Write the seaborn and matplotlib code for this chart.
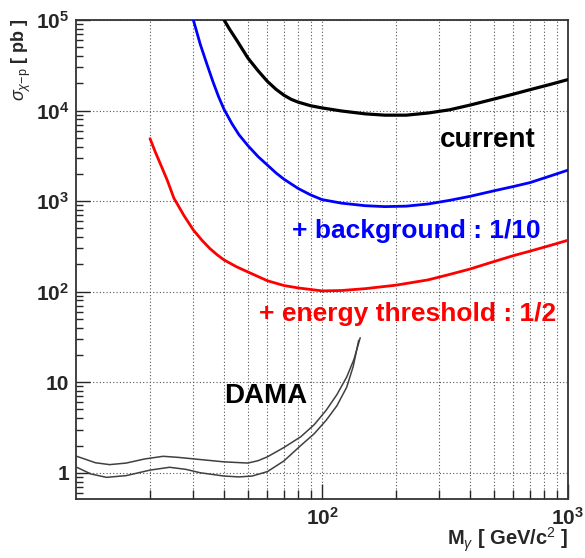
import numpy as np
import pandas as pd
import matplotlib
matplotlib.use("Agg")
import matplotlib.pyplot as plt
from matplotlib.ticker import NullFormatter, FixedLocator, FixedFormatter
import seaborn as sns

# curve values (mass in GeV/c^2, cross section in pb)
m_current = [40, 42, 45, 50, 55, 60, 65, 70, 75, 80, 90, 100, 120, 150, 180, 220, 270, 330, 400, 500, 600,
             700, 850, 1000]
s_current = [1.0e5, 8.0e4, 6.0e4, 3.8e4, 2.75e4, 2.1e4, 1.72e4, 1.48e4, 1.33e4, 1.24e4, 1.13e4, 1.07e4,
             9.9e3, 9.2e3, 8.9e3, 8.9e3, 9.4e3, 1.02e4, 1.15e4, 1.34e4, 1.52e4, 1.7e4, 1.95e4, 2.2e4]

m_bkg = [30, 32, 34, 36, 38, 40, 43, 46, 50, 55, 60, 65, 70, 80, 90, 100, 120, 150, 180, 220, 270, 330, 400,
         500, 600, 700, 850, 1000]
s_bkg = [1.0e5, 5.4e4, 3.3e4, 2.1e4, 1.42e4, 1.03e4, 7.2e3, 5.4e3, 4.1e3, 3.1e3, 2.5e3, 2.05e3, 1.75e3,
         1.38e3, 1.17e3, 1.04e3, 950, 890, 870, 880, 930, 1.02e3, 1.13e3, 1.3e3, 1.45e3, 1.6e3, 1.9e3, 2.2e3]

m_thr = [20, 21, 22, 23.5, 25, 27.5, 30, 32.5, 35, 37.5, 40, 45, 50, 60, 70, 80, 100, 120, 150, 200, 270,
         330, 400, 500, 600, 700, 850, 1000]
s_thr = [4.9e3, 3.5e3, 2.6e3, 1.7e3, 1.08e3, 690, 480, 370, 300, 255, 224, 188, 165, 132, 117, 110, 102,
         103, 108, 118, 135, 155, 178, 215, 250, 280, 325, 370]

m_dama_hi = [10, 11, 12, 13.7, 16, 19, 22.6, 26, 32, 40, 50, 55, 60, 70, 82, 93, 104, 115, 126, 135, 143]
s_dama_hi = [1.53, 1.40, 1.29, 1.23, 1.28, 1.42, 1.52, 1.48, 1.4, 1.32, 1.28, 1.36, 1.5, 1.9, 2.5, 3.4, 4.9,
             7.3, 11.4, 18, 31]
m_dama_lo = [10, 11.5, 13.3, 16, 20, 24, 28, 32, 40, 46, 52, 60, 70, 82, 93, 104, 115, 126, 134, 141]
s_dama_lo = [1.16, 0.97, 0.89, 0.93, 1.07, 1.15, 1.09, 1.0, 0.92, 0.9, 0.92, 1.03, 1.35, 2.0, 2.7, 3.8, 5.5,
             8.8, 15, 29]

y_ticks = [1, 10, 100, 1000, 1e4, 1e5]
y_tick_labels = ['1', '10', r'$\mathbf{10^{2}}$', r'$\mathbf{10^{3}}$', r'$\mathbf{10^{4}}$', r'$\mathbf{10^{5}}$']
x_ticks = [100, 1000]
x_tick_labels = [r'$\mathbf{10^{2}}$', r'$\mathbf{10^{3}}$']

sns.set_style("white")
plt.rcParams['font.family'] = ['Liberation Sans', 'DejaVu Sans']
plt.rcParams['mathtext.fontset'] = 'custom'
plt.rcParams['mathtext.rm'] = 'Liberation Sans'
plt.rcParams['mathtext.it'] = 'Liberation Sans:italic'
plt.rcParams['mathtext.bf'] = 'Liberation Sans:bold'

fig = plt.figure(figsize=(5.85, 5.58), dpi=100)
ax = fig.add_axes([0.1299, 0.1057, 0.841, 0.8584])

curves = [
    (m_current, s_current, 'black', 2.3),
    (m_bkg, s_bkg, 'blue', 2.0),
    (m_thr, s_thr, 'red', 2.0),
    (m_dama_hi, s_dama_hi, '#404040', 1.1),
    (m_dama_lo, s_dama_lo, '#404040', 1.1),
]
for mx, sy, col, lw in curves:
    df = pd.DataFrame({'mass': mx, 'sigma': sy})
    sns.lineplot(data=df, x='mass', y='sigma', ax=ax, color=col, linewidth=lw,
                 estimator=None, sort=False, zorder=3, solid_joinstyle='round')

ax.set_xscale('log')
ax.set_yscale('log')
ax.set_xlim(10, 1000)
ax.set_ylim(0.513, 1e5)

ax.yaxis.set_major_locator(FixedLocator(y_ticks))
ax.yaxis.set_major_formatter(FixedFormatter(y_tick_labels))
ax.xaxis.set_major_locator(FixedLocator(x_ticks))
ax.xaxis.set_major_formatter(FixedFormatter(x_tick_labels))
ax.xaxis.set_minor_formatter(NullFormatter())
ax.yaxis.set_minor_formatter(NullFormatter())

ax.tick_params(axis='x', which='major', direction='in', length=11, width=1, pad=6,
               labelsize=15, bottom=True, top=False)
ax.tick_params(axis='x', which='minor', direction='in', length=6.5, width=1, bottom=True, top=False)
ax.tick_params(axis='y', which='major', direction='in', length=10, width=1, pad=5,
               labelsize=15, left=True, right=False)
ax.tick_params(axis='y', which='minor', direction='in', length=5, width=1, left=True, right=False)
for lab in ax.get_xticklabels() + ax.get_yticklabels():
    lab.set_fontweight('bold')

ax.grid(which='major', axis='both', linestyle=(0, (1, 2)), color='#555555', linewidth=0.8)
ax.grid(which='minor', axis='x', linestyle=(0, (1, 2)), color='#555555', linewidth=0.8)
ax.grid(which='minor', axis='y', visible=False)
ax.set_axisbelow(True)

for sp in ax.spines.values():
    sp.set_visible(True)
    sp.set_color('#333333')
    sp.set_linewidth(1.3)

ax.set_xlabel('')
ax.set_ylabel('')

fig.text(21 / 585, 1 - 18 / 558, r'$\sigma_{\chi\mathrm{-p}}$ [ pb ]', rotation=90,
         ha='center', va='top', fontsize=13, fontweight='bold')
fig.text(568 / 585, 1 - 540 / 558, r'M$_{\gamma}$ [ GeV/c$^{2}$ ]', ha='right', va='center',
         fontsize=14.5, fontweight='bold')

ax.text(0.837, 0.735, 'current', transform=ax.transAxes, ha='center', va='baseline',
        fontsize=20, fontweight='bold', color='black')
ax.text(0.692, 0.545, '+ background : 1/10', transform=ax.transAxes, ha='center', va='baseline',
        fontsize=19, fontweight='bold', color='blue')
ax.text(0.674, 0.372, '+ energy threshold : 1/2', transform=ax.transAxes, ha='center', va='baseline',
        fontsize=19, fontweight='bold', color='red')
ax.text(0.386, 0.200, 'DAMA', transform=ax.transAxes, ha='center', va='baseline',
        fontsize=20, fontweight='bold', color='black')

fig.savefig('out.png', dpi=100)
